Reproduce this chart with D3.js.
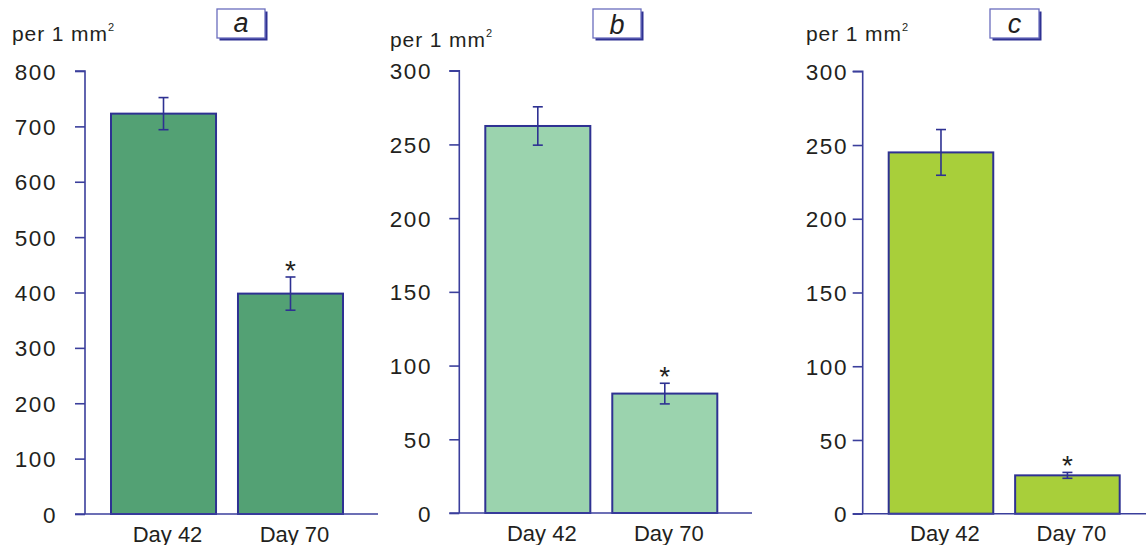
<!DOCTYPE html>
<html>
<head>
<meta charset="utf-8">
<script src="https://cdn.jsdelivr.net/npm/d3@7"></script>
<style>
  html, body { margin: 0; padding: 0; background: #ffffff; }
  svg { display: block; }
  text { font-family: "Liberation Sans", Arial, sans-serif; fill: #231f20; }
</style>
</head>
<body>
<svg id="chart" width="1146" height="545"></svg>
<script>
// ---- data ----
const categories = ["Day 42", "Day 70"];
const panelLetters = ["a", "b", "c"];
const valuesA = [723, 398];
const errorsA = [29, 30];
const valuesB = [262.5, 81];
const errorsB = [13, 7];
const valuesC = [245, 26];
const errorsC = [15.5, 2];
const significant = [false, true];
const ticksA = [0, 100, 200, 300, 400, 500, 600, 700, 800];
const ticksB = [0, 50, 100, 150, 200, 250, 300];
const ticksC = [0, 50, 100, 150, 200, 250, 300];
const unitLabel = "per 1 mm";
const unitSup = "2";

// ---- layout (positions / styles) ----
const navy = "#2e3192";
const axisColor = "#3b3f9c";
const panels = [
  { letter: panelLetters[0], values: valuesA, errors: errorsA, ticks: ticksA, fill: "#53a174",
    axisX: 85, yTop: 71, yBottom: 514, xAxisEnd: 378, bandRange: [111, 343],
    labelRight: 57, unitX: 12, unitY: 40.5, box: [217, 9, 48, 29], letterY: 31.5 },
  { letter: panelLetters[1], values: valuesB, errors: errorsB, ticks: ticksB, fill: "#9bd3ae",
    axisX: 459.3, yTop: 70.7, yBottom: 513, xAxisEnd: 752, bandRange: [485.3, 717.3],
    labelRight: 432, unitX: 390, unitY: 46.5, box: [593, 9, 48, 29], letterY: 33.5 },
  { letter: panelLetters[2], values: valuesC, errors: errorsC, ticks: ticksC, fill: "#a8cf3a",
    axisX: 862.7, yTop: 71.3, yBottom: 513.7, xAxisEnd: 1146, bandRange: [888.7, 1119.7],
    labelRight: 848, unitX: 806, unitY: 41, box: [990, 9, 49, 29], letterY: 32.5 }
];

const svg = d3.select("#chart");

panels.forEach(p => {
  const g = svg.append("g");
  const maxTick = d3.max(p.ticks);
  const y = d3.scaleLinear().domain([0, maxTick]).range([p.yBottom, p.yTop]);
  const x = d3.scaleBand().domain(categories).range(p.bandRange).paddingInner(0.173).paddingOuter(0);

  // bars
  g.selectAll("rect.bar").data(categories).enter().append("rect")
    .attr("class", "bar")
    .attr("x", d => x(d))
    .attr("width", x.bandwidth())
    .attr("y", (d, i) => y(p.values[i]))
    .attr("height", (d, i) => y(0) - y(p.values[i]))
    .attr("fill", p.fill)
    .attr("stroke", navy)
    .attr("stroke-width", 2);

  // y axis via d3 axis
  const yAxis = d3.axisLeft(y).tickValues(p.ticks).tickSize(10).tickPadding(0).tickFormat(d3.format("d"));
  const ay = g.append("g").attr("transform", `translate(${p.axisX},0)`).call(yAxis);
  ay.select(".domain").attr("d", `M-10,${p.yTop}H0V${p.yBottom}`).attr("stroke", axisColor).attr("stroke-width", 1.6).attr("fill", "none");
  ay.selectAll(".tick line").attr("stroke", axisColor).attr("stroke-width", 1.6);
  ay.selectAll(".tick text")
    .attr("x", p.labelRight - p.axisX)
    .attr("dy", "0.36em")
    .attr("text-anchor", "end")
    .style("font-family", '"Liberation Sans", Arial, sans-serif')
    .style("font-size", "22.5px")
    .style("letter-spacing", "1.6px")
    .attr("fill", "#231f20");

  // x axis line
  const xAxis = d3.axisBottom(x).tickSize(0).tickPadding(0);
  const ax = g.append("g").attr("transform", `translate(0,${p.yBottom})`).call(xAxis);
  ax.select(".domain").attr("d", `M${p.axisX - 10},0H${p.xAxisEnd}`).attr("stroke", axisColor).attr("stroke-width", 1.6);
  ax.selectAll(".tick text")
    .attr("y", 27.5)
    .attr("dy", 0)
    .attr("x", 4)
    .style("font-family", '"Liberation Sans", Arial, sans-serif')
    .style("font-size", "22px")
    .attr("fill", "#231f20");

  // error bars
  categories.forEach((c, i) => {
    const cx = x(c) + x.bandwidth() / 2;
    const top = y(p.values[i] + p.errors[i]);
    const bot = y(p.values[i] - p.errors[i]);
    g.append("line").attr("x1", cx).attr("x2", cx).attr("y1", top).attr("y2", bot)
      .attr("stroke", navy).attr("stroke-width", 1.6);
    [top, bot].forEach(yy => {
      g.append("line").attr("x1", cx - 5).attr("x2", cx + 5).attr("y1", yy).attr("y2", yy)
        .attr("stroke", navy).attr("stroke-width", 1.6);
    });
    if (significant[i]) {
      g.append("text").attr("x", cx).attr("y", top + 3)
        .attr("text-anchor", "middle").style("font-size", "28px").text("*");
    }
  });

  // unit label
  const t = g.append("text").attr("x", p.unitX).attr("y", p.unitY)
    .style("font-size", "21px").style("letter-spacing", "0.9px");
  t.append("tspan").text(unitLabel);
  t.append("tspan").attr("dy", -10).attr("dx", 0).style("font-size", "11px").style("letter-spacing", "0px").text(unitSup);

  // panel letter box
  const [bx, by, bw, bh] = p.box;
  g.append("rect").attr("x", bx + 2.5).attr("y", by + 2.5).attr("width", bw).attr("height", bh).attr("fill", navy);
  g.append("rect").attr("x", bx).attr("y", by).attr("width", bw).attr("height", bh)
    .attr("fill", "#ffffff").attr("stroke", "#6a6dbd").attr("stroke-width", 1.3);
  g.append("text").attr("x", bx + bw / 2).attr("y", p.letterY)
    .attr("text-anchor", "middle").style("font-size", "27px").style("font-style", "italic").text(p.letter);
});
</script>
</body>
</html>
